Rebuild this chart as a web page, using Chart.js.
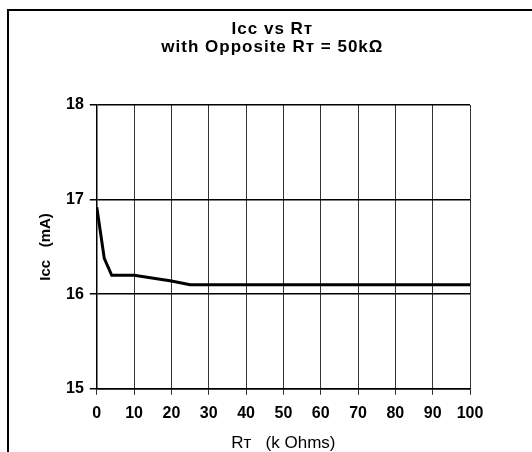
<!DOCTYPE html>
<html>
<head>
<meta charset="utf-8">
<script src="https://cdn.jsdelivr.net/npm/chart.js@4"></script>
<style>
  html, body { margin: 0; padding: 0; background: #fff; }
  #wrap { position: relative; width: 532px; height: 452px; }
  #frame { position: absolute; left: 7px; top: 9px; right: 0; bottom: 0;
           border-top: 2px solid #000; border-left: 2px solid #000; pointer-events: none; }
</style>
</head>
<body>
<div id="wrap">
  <canvas id="chart" width="532" height="452"></canvas>
  <div id="frame"></div>
</div>
<script>
// Rt (k Ohms) vs Icc (mA)
var rt = [0, 1, 2, 4, 10, 20, 25, 30, 40, 50, 60, 70, 80, 90, 100];
var icc = [16.92, 16.65, 16.38, 16.2, 16.2, 16.14, 16.1, 16.1, 16.1, 16.1, 16.1, 16.1, 16.1, 16.1, 16.1];
var titleLines = ['Icc vs R\u1D1B', 'with Opposite R\u1D1B = 50k\u03A9'];

var points = [];
for (var i = 0; i < rt.length; i++) {
    points.push({x: rt[i], y: icc[i]});
}

var fam = '"Liberation Sans", Arial, sans-serif';

// title drawn by hand so it can sit a little left of the plot centre, like the scan
var titlePlugin = {
    id: 'scanTitle',
    afterDraw: function (chart) {
        var c = chart.ctx;
        var area = chart.chartArea;
        var cx = (area.left + area.right) / 2 - 11;
        c.save();
        c.fillStyle = '#000';
        c.font = 'bold 17px ' + fam;
        c.letterSpacing = '1px';
        c.textAlign = 'center';
        c.textBaseline = 'middle';
        c.fillText(titleLines[0], cx, 29);
        c.fillText(titleLines[1], cx, 47);
        c.restore();
    }
};

var ctx = document.getElementById('chart').getContext('2d');
var chart = new Chart(ctx, {
    type: 'line',
    data: {
        datasets: [{
            data: points,
            borderColor: '#000',
            borderWidth: 3,
            pointRadius: 0,
            tension: 0,
            fill: false
        }]
    },
    options: {
        responsive: false,
        animation: false,
        layout: { padding: { left: 30, right: 62, top: 105, bottom: 0 } },
        plugins: {
            legend: { display: false },
            tooltip: { enabled: false },
            title: { display: false }
        },
        scales: {
            x: {
                type: 'linear',
                min: 0,
                max: 100,
                ticks: { stepSize: 10, color: '#000', padding: 9,
                         font: { family: fam, size: 16, weight: 'bold' } },
                grid: { color: '#333', lineWidth: 1, tickLength: 6 },
                border: { color: '#000', width: 1.5 },
                title: { display: true, text: 'R\u1D1B   (k Ohms)', color: '#000',
                         font: { family: fam, size: 17, lineHeight: 1 }, padding: { top: 3, bottom: 0 } }
            },
            y: {
                min: 15,
                max: 18,
                ticks: { stepSize: 1, color: '#000', padding: 6,
                         font: { family: fam, size: 16, weight: 'bold' } },
                grid: { color: '#000', lineWidth: 1.5, tickLength: 7 },
                border: { color: '#000', width: 1.5 },
                title: { display: true, text: 'Icc   (mA)', color: '#000',
                         font: { family: fam, size: 15, weight: 'bold' }, padding: { top: 7, bottom: 5 } }
            }
        }
    },
    plugins: [titlePlugin]
});
</script>
</body>
</html>
